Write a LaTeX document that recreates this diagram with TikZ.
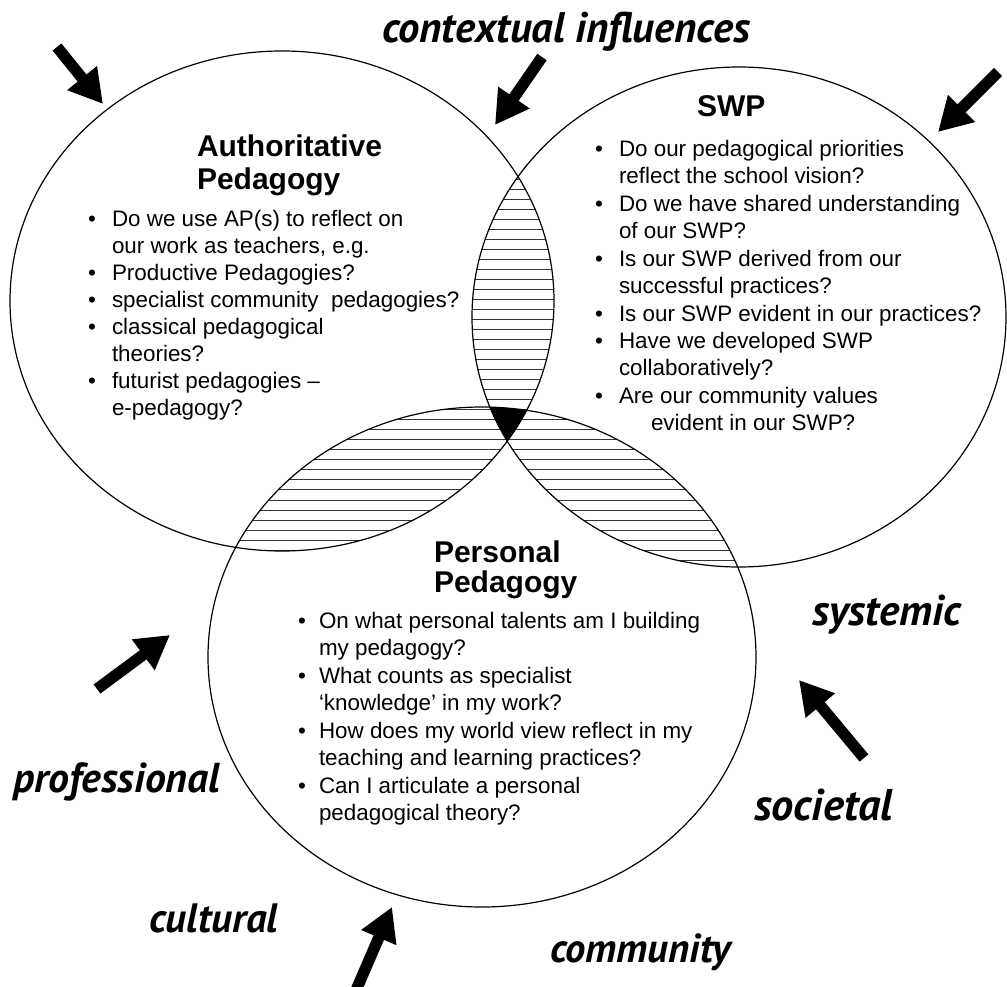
\documentclass[tikz,border=0pt]{standalone}
\usepackage{fontspec}
\setmainfont{Liberation Sans}
\newfontfamily\hand{PT Sans}
\usetikzlibrary{arrows.meta}
\newlength\px \setlength\px{0.75pt}
\begin{document}
\begin{tikzpicture}[x=0.75pt,y=-0.75pt,
  ring/.style={draw=black, line width=0.9pt},
  hatch/.style={draw=black!80, line width=0.75pt},
  txt/.style={inner sep=0pt, outer sep=0pt, anchor=base west, font=\fontsize{16.8pt}{20pt}\selectfont},
  ttl/.style={inner sep=0pt, outer sep=0pt, anchor=base west, font=\fontsize{22.5pt}{24pt}\selectfont\bfseries},
  hw/.style={inner sep=0pt, outer sep=0pt, anchor=base west},
  bigarrow/.style={line width=8.5pt, -{Triangle[width=27pt,length=25pt]}}]
\useasboundingbox (0,0) rectangle (1007,987);
\clip (0,0) rectangle (1007,987);
\fill[white] (0,0) rectangle (1007,987);

% hatching of pairwise overlaps
\begin{scope}
  \clip (282,301) ellipse [x radius=204pt, y radius=187.5pt];
  \clip (739,317) ellipse [x radius=200.25pt, y radius=187.5pt];
  \foreach \yy in {170,180,...,460} \draw[hatch] (400,\yy) -- (650,\yy);
\end{scope}
\begin{scope}
  \clip (282,301) ellipse [x radius=204pt, y radius=187.5pt];
  \clip (482,657) ellipse [x radius=205.5pt, y radius=187.5pt];
  \foreach \yy in {400,410,...,560} \draw[hatch] (150,\yy) -- (600,\yy);
\end{scope}
\begin{scope}
  \clip (739,317) ellipse [x radius=200.25pt, y radius=187.5pt];
  \clip (482,657) ellipse [x radius=205.5pt, y radius=187.5pt];
  \foreach \yy in {400,410,...,570} \draw[hatch] (400,\yy) -- (850,\yy);
\end{scope}
% triple overlap
\begin{scope}
  \clip (282,301) ellipse [x radius=204pt, y radius=187.5pt];
  \clip (739,317) ellipse [x radius=200.25pt, y radius=187.5pt];
  \fill[black] (482,657) ellipse [x radius=205.5pt, y radius=187.5pt];
\end{scope}

% the three circles
\draw[ring] (282,301) ellipse [x radius=204pt, y radius=187.5pt];
\draw[ring] (739,317) ellipse [x radius=200.25pt, y radius=187.5pt];
\draw[ring] (482,657) ellipse [x radius=205.5pt, y radius=187.5pt];

% Authoritative Pedagogy
\node[ttl] (at1) at (197,157) {Authoritative};
\node[ttl] (at2) at (197,190) {Pedagogy};
\node[txt] (ab1) at (88,227) {•};
\node[txt] (al1) at (112,227) {Do we use AP(s) to reflect on};
\node[txt] (al2) at (112,254) {our work as teachers, e.g.};
\node[txt] (ab2) at (88,281) {•};
\node[txt] (al3) at (112,281) {Productive Pedagogies?};
\node[txt] (ab3) at (88,308) {•};
\node[txt] (al4) at (112,308) {specialist community\ \ pedagogies?};
\node[txt] (ab4) at (88,335) {•};
\node[txt] (al5) at (112,335) {classical pedagogical};
\node[txt] (al6) at (112,362) {theories?};
\node[txt] (ab5) at (88,389) {•};
\node[txt] (al7) at (112,389) {futurist pedagogies –};
\node[txt] (al8) at (112,416) {e-pedagogy?};

% SWP
\node[ttl] (st1) at (697,117) {SWP};
\node[txt] (sb1) at (595,157) {•};
\node[txt] (sl1) at (619,157) {Do our pedagogical priorities};
\node[txt] (sl2) at (619,184) {reflect the school vision?};
\node[txt] (sb2) at (595,212) {•};
\node[txt] (sl3) at (619,212) {Do we have shared understanding};
\node[txt] (sl4) at (619,239) {of our SWP?};
\node[txt] (sb3) at (595,267) {•};
\node[txt] (sl5) at (619,267) {Is our SWP derived from our};
\node[txt] (sl6) at (619,294) {successful practices?};
\node[txt] (sb4) at (595,322) {•};
\node[txt] (sl7) at (619,322) {Is our SWP evident in our practices?};
\node[txt] (sb5) at (595,349) {•};
\node[txt] (sl8) at (619,349) {Have we developed SWP};
\node[txt] (sl9) at (619,376) {collaboratively?};
\node[txt] (sb6) at (595,404) {•};
\node[txt] (sl10) at (619,404) {Are our community values};
\node[txt] (sl11) at (651,431) {evident in our SWP?};

% Personal Pedagogy
\node[ttl] (pt1) at (434,562) {Personal};
\node[ttl] (pt2) at (434,592) {Pedagogy};
\node[txt] (pb1) at (298,628) {•};
\node[txt] (pl1) at (319,628) {On what personal talents am I building};
\node[txt] (pl2) at (319,655) {my pedagogy?};
\node[txt] (pb2) at (298,683) {•};
\node[txt] (pl3) at (319,683) {What counts as specialist};
\node[txt] (pl4) at (319,710) {‘knowledge’ in my work?};
\node[txt] (pb3) at (298,738) {•};
\node[txt] (pl5) at (319,738) {How does my world view reflect in my};
\node[txt] (pl6) at (319,765) {teaching and learning practices?};
\node[txt] (pb4) at (298,793) {•};
\node[txt] (pl7) at (319,793) {Can I articulate a personal};
\node[txt] (pl8) at (319,820) {pedagogical theory?};

% handwritten influences
\node[hw] (hctx) at (382,43) {\resizebox{368\px}{!}{\hand\bfseries\itshape contextual influences}};
\node[hw] (hsys) at (812,625) {\resizebox{149\px}{!}{\hand\bfseries\itshape systemic}};
\node[hw] (hpro) at (13,792) {\resizebox{207\px}{!}{\hand\bfseries\itshape professional}};
\node[hw] (hsoc) at (754,820) {\resizebox{139\px}{!}{\hand\bfseries\itshape societal}};
\node[hw] (hcul) at (149,932) {\resizebox{129\px}{!}{\hand\bfseries\itshape cultural}};
\node[hw] (hcom) at (550,962) {\resizebox{181\px}{!}{\hand\bfseries\itshape community}};

% arrows
\coordinate (t1) at (57,47);   \coordinate (h1) at (103,104);
\coordinate (t2) at (542,57);  \coordinate (h2) at (495,125);
\coordinate (t3) at (998,72);  \coordinate (h3) at (938,132);
\coordinate (t4) at (97,689);  \coordinate (h4) at (170,635);
\coordinate (t5) at (864,758); \coordinate (h5) at (799,680);
\coordinate (t6) at (354,995); \coordinate (h6) at (392,907);
\draw[bigarrow] (t1) -- (h1);
\draw[bigarrow] (t2) -- (h2);
\draw[bigarrow] (t3) -- (h3);
\draw[bigarrow] (t4) -- (h4);
\draw[bigarrow] (t5) -- (h5);
\draw[bigarrow] (t6) -- (h6);
\end{tikzpicture}
\end{document}
